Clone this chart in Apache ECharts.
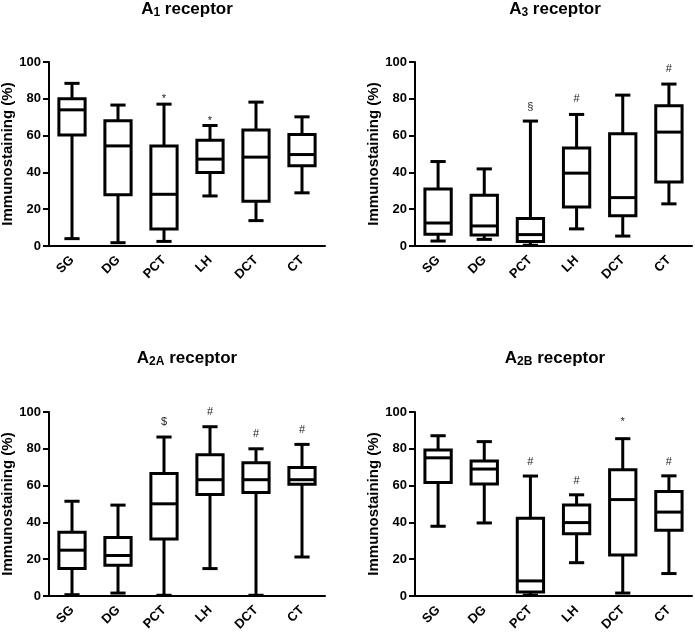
<!DOCTYPE html>
<html>
<head>
<meta charset="utf-8">
<script src="https://cdn.jsdelivr.net/npm/echarts@6/dist/echarts.min.js"></script>
<style>
  html, body { margin: 0; padding: 0; background: #fff; }
  #chart { width: 695px; height: 633px; }
</style>
</head>
<body>
<div id="chart"></div>
<script>
// ---- data ----
const categories = ['SG', 'DG', 'PCT', 'LH', 'DCT', 'CT'];
const yTicks = [0, 20, 40, 60, 80, 100];

// each row: [min, Q1, median, Q3, max]
const a1Data = [
  [4.0, 60.3, 74.0, 80.0, 88.4],
  [1.8, 27.9, 54.4, 68.1, 76.6],
  [2.5, 9.3, 28.1, 54.3, 77.1],
  [27.2, 39.9, 47.2, 57.5, 65.5],
  [13.8, 24.3, 48.3, 63.0, 78.2],
  [28.9, 43.6, 49.7, 60.6, 70.2]
];
const a3Data = [
  [2.7, 6.4, 12.5, 31.0, 45.9],
  [3.6, 6.0, 10.9, 27.6, 41.9],
  [0.4, 2.5, 6.2, 14.9, 67.9],
  [9.3, 21.2, 39.6, 53.2, 71.5],
  [5.4, 16.5, 26.3, 61.0, 82.0],
  [22.9, 34.8, 61.9, 76.2, 88.0]
];
const a2aData = [
  [0.7, 14.9, 24.9, 34.7, 51.5],
  [1.6, 16.7, 22.0, 31.8, 49.4],
  [0.4, 31.0, 50.1, 66.6, 86.4],
  [14.9, 55.2, 63.2, 76.8, 92.0],
  [0.4, 56.3, 63.2, 72.4, 80.0],
  [21.2, 60.8, 63.2, 69.9, 82.4]
];
const a2bData = [
  [37.9, 61.7, 75.1, 79.3, 87.1],
  [39.7, 60.9, 69.0, 73.4, 83.9],
  [0.5, 2.2, 8.2, 42.3, 65.2],
  [18.1, 33.8, 39.9, 49.4, 55.0],
  [1.6, 22.3, 52.4, 68.6, 85.5],
  [12.2, 35.8, 45.6, 56.8, 65.3]
];

// significance marks: text per category and its height
const a1MarkText  = ['', '', '*', '*', '', ''];
const a1MarkY     = [null, null, 81, 69, null, null];
const a3MarkText  = ['', '', '§', '#', '', '#'];
const a3MarkY     = [null, null, 75.7, 79.9, null, 96.2];
const a2aMarkText = ['', '', '$', '#', '#', '#'];
const a2aMarkY    = [null, null, 94.4, 100, 87.8, 90.2];
const a2bMarkText = ['', '', '#', '#', '*', '#'];
const a2bMarkY    = [null, null, 73, 62.6, 95.5, 73];

const titles = [
  { main: 'A', sub: '1' },
  { main: 'A', sub: '3' },
  { main: 'A', sub: '2A' },
  { main: 'A', sub: '2B' }
];
const yName = 'Immunostaining (%)';

// ---- layout ----
const FONT = '"Liberation Sans", Arial, Helvetica, sans-serif';
const grids = [
  { left: 49,  top: 62,  width: 276, height: 184 },
  { left: 415, top: 62,  width: 277, height: 184 },
  { left: 49,  top: 412, width: 276, height: 184 },
  { left: 415, top: 412, width: 277, height: 184 }
];
const titleCenters = [[187, 0], [555, 0], [187, 349], [555, 349]];

const panels = [
  { data: a1Data,  mt: a1MarkText,  my: a1MarkY },
  { data: a3Data,  mt: a3MarkText,  my: a3MarkY },
  { data: a2aData, mt: a2aMarkText, my: a2aMarkY },
  { data: a2bData, mt: a2bMarkText, my: a2bMarkY }
];

function boxRender(params, api) {
  const i = api.value(0);
  const lo = api.coord([i, api.value(1)]);
  const q1 = api.coord([i, api.value(2)]);
  const md = api.coord([i, api.value(3)]);
  const q3 = api.coord([i, api.value(4)]);
  const hi = api.coord([i, api.value(5)]);
  const band = api.size([1, 0])[0];
  const bw = band * 0.57;
  const cw = band * 0.33;
  const cx = lo[0];
  const st = { stroke: '#000', lineWidth: 3, fill: null };
  return {
    type: 'group',
    children: [
      { type: 'line', shape: { x1: cx, y1: q3[1], x2: cx, y2: hi[1] }, style: st },
      { type: 'line', shape: { x1: cx, y1: q1[1], x2: cx, y2: lo[1] }, style: st },
      { type: 'line', shape: { x1: cx - cw / 2, y1: hi[1], x2: cx + cw / 2, y2: hi[1] }, style: st },
      { type: 'line', shape: { x1: cx - cw / 2, y1: lo[1], x2: cx + cw / 2, y2: lo[1] }, style: st },
      { type: 'rect', shape: { x: cx - bw / 2, y: q3[1], width: bw, height: q1[1] - q3[1] }, style: { stroke: '#000', lineWidth: 3, fill: '#fff' } },
      { type: 'line', shape: { x1: cx - bw / 2, y1: md[1], x2: cx + bw / 2, y2: md[1] }, style: st }
    ]
  };
}

const option = {
  backgroundColor: '#fff',
  animation: false,
  title: titles.map((t, k) => ({
    text: '{m|' + t.main + '}{s|' + t.sub + '}{m| receptor}',
    left: titleCenters[k][0],
    top: titleCenters[k][1],
    textAlign: 'center',
    padding: 0,
    textStyle: {
      rich: {
        m: { fontFamily: FONT, fontWeight: 'bold', fontSize: 17, color: '#000', lineHeight: 19 },
        s: { fontFamily: FONT, fontWeight: 'bold', fontSize: 12, color: '#000', lineHeight: 11, verticalAlign: 'bottom' }
      }
    }
  })),
  grid: grids.map(g => Object.assign({ outerBoundsMode: 'none', containLabel: false }, g)),
  xAxis: grids.map((g, k) => ({
    type: 'category',
    gridIndex: k,
    data: categories,
    boundaryGap: true,
    axisLine: { lineStyle: { color: '#000', width: 2 } },
    axisTick: { alignWithLabel: true, length: 5, lineStyle: { color: '#000', width: 2 } },
    axisLabel: {
      rotate: 45, margin: 12, interval: 0,
      color: '#000', fontFamily: FONT, fontWeight: 'bold', fontSize: 13
    }
  })),
  yAxis: grids.map((g, k) => ({
    type: 'value',
    gridIndex: k,
    min: yTicks[0], max: yTicks[yTicks.length - 1], interval: 20,
    name: yName,
    nameLocation: 'middle',
    nameGap: 29,
    nameTextStyle: { color: '#000', fontFamily: FONT, fontWeight: 'bold', fontSize: 15 },
    splitLine: { show: false },
    axisLine: { show: true, lineStyle: { color: '#000', width: 2 } },
    axisTick: { show: true, length: 6, lineStyle: { color: '#000', width: 2 } },
    axisLabel: { margin: 8, color: '#000', fontFamily: FONT, fontWeight: 'bold', fontSize: 13 }
  })),
  series: []
};

panels.forEach((p, k) => {
  option.series.push({
    type: 'custom',
    xAxisIndex: k, yAxisIndex: k,
    renderItem: boxRender,
    encode: { x: 0, y: [1, 2, 3, 4, 5] },
    data: p.data.map((r, i) => [i].concat(r)),
    clip: false,
    z: 2
  });
  const markData = [];
  const markTxt = [];
  p.my.forEach((y, i) => {
    if (y !== null) { markData.push([i, y]); markTxt.push(p.mt[i]); }
  });
  option.series.push({
    type: 'custom',
    xAxisIndex: k, yAxisIndex: k,
    encode: { x: 0, y: 1 },
    data: markData,
    clip: false,
    z: 3,
    renderItem: function (params, api) {
      const c = api.coord([api.value(0), api.value(1)]);
      const t = markTxt[params.dataIndex];
      return {
        type: 'text',
        x: c[0], y: c[1] + (t === '*' ? 2 : 0),
        style: {
          text: t, x: 0, y: 0,
          align: 'center', verticalAlign: 'middle',
          fontFamily: FONT, fontSize: 11, fill: '#222'
        }
      };
    }
  });
});

const chart = echarts.init(document.getElementById('chart'), null, { renderer: 'canvas' });
chart.setOption(option);
</script>
</body>
</html>
